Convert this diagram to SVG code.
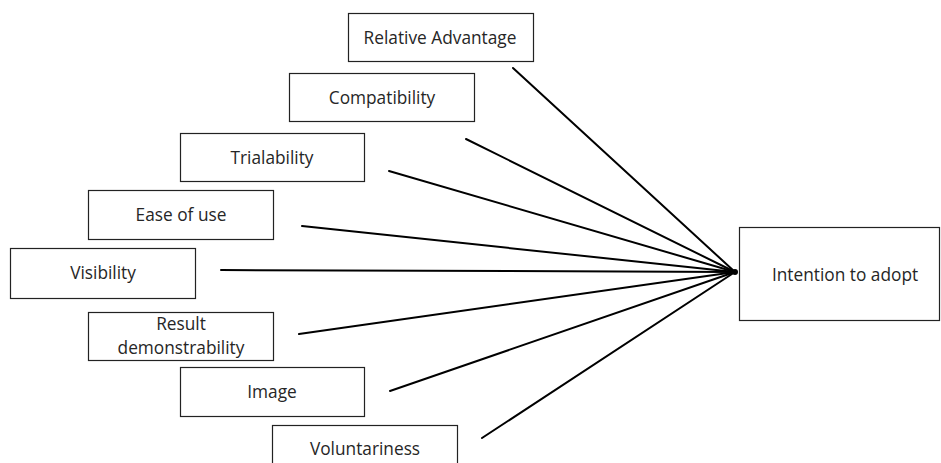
<svg xmlns="http://www.w3.org/2000/svg" width="941" height="463" viewBox="0 0 941 463">
<style>
.box{fill:#fff;stroke:#222;stroke-width:1.2}
.t{font-family:"Open Sans","Liberation Sans",sans-serif;font-size:17.3px;fill:#262626;text-anchor:middle}
.c line{stroke:#000;stroke-width:2;stroke-linecap:round}
</style>
<rect width="941" height="463" fill="#fff"/>
<g class="c" id="connectors">
<line x1="513" y1="68" x2="735" y2="272"/>
<line x1="466" y1="139" x2="735" y2="272"/>
<line x1="389" y1="171" x2="735" y2="272"/>
<line x1="302" y1="226" x2="735" y2="272"/>
<line x1="221" y1="270" x2="735" y2="272"/>
<line x1="299" y1="334" x2="735" y2="272"/>
<line x1="390" y1="391" x2="735" y2="272"/>
<line x1="482" y1="438" x2="735" y2="272"/>
<circle cx="735" cy="272" r="3" fill="#000"/>
</g>
<g id="relative-advantage"><rect class="box" x="348.5" y="13.5" width="185" height="48"/><text class="t" x="440" y="44">Relative Advantage</text></g>
<g id="compatibility"><rect class="box" x="289.5" y="73.5" width="185" height="48"/><text class="t" x="382" y="104">Compatibility</text></g>
<g id="trialability"><rect class="box" x="180.5" y="133.5" width="184" height="48"/><text class="t" x="272" y="164">Trialability</text></g>
<g id="ease-of-use"><rect class="box" x="88.5" y="190.5" width="185" height="49"/><text class="t" x="181" y="221">Ease of use</text></g>
<g id="visibility"><rect class="box" x="10.5" y="248.5" width="185" height="50"/><text class="t" x="103" y="279">Visibility</text></g>
<g id="result-demonstrability"><rect class="box" x="88.5" y="312.5" width="185" height="48"/><text class="t" x="181" y="330">Result</text><text class="t" x="181" y="354">demonstrability</text></g>
<g id="image"><rect class="box" x="180.5" y="367.5" width="184" height="49"/><text class="t" x="272" y="398">Image</text></g>
<g id="voluntariness"><rect class="box" x="272.5" y="425.5" width="185" height="50"/><text class="t" x="365" y="455">Voluntariness</text></g>
<g id="intention-to-adopt"><rect class="box" x="739.5" y="227.5" width="200" height="93"/><text class="t" x="845" y="281">Intention to adopt</text></g>
</svg>
